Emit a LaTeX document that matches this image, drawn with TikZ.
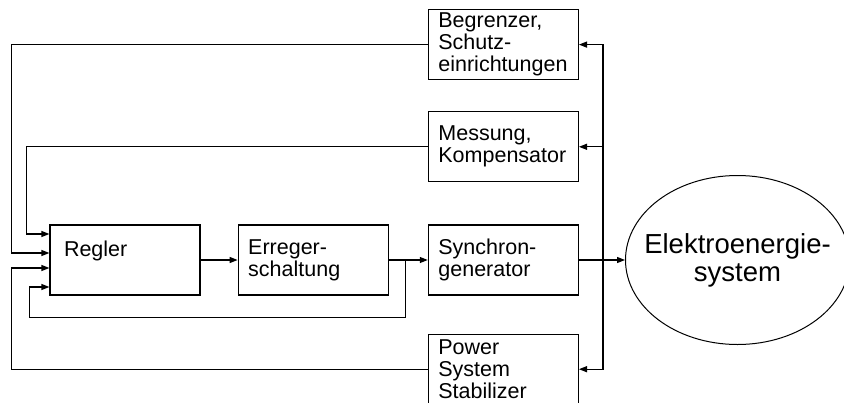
\documentclass[tikz,border=0pt]{standalone}
\usepackage{fontspec}
\setmainfont{Liberation Sans}
\usepackage{tikz}
\usetikzlibrary{positioning, arrows.meta, shapes.geometric}
\hyphenpenalty=10000

\begin{document}
\begin{tikzpicture}[x=1pt, y=-1pt, line width=1.2pt, >={Triangle[length=8pt, width=6pt]},
  font=\fontsize{21.5}{22}\selectfont,
  blk/.style={draw, align=left, inner xsep=10pt, inner ysep=0pt, text width=130pt, minimum height=70pt},
  sys/.style={draw, ellipse, line width=1pt, align=center, inner xsep=-40pt, inner ysep=-12pt,
    minimum width=224pt, minimum height=169pt, font=\fontsize{27.5}{28}\selectfont}]
\useasboundingbox (0,0) rectangle (844,402);
\node[blk] (reg) at (125,260) {\kern4pt Regler\\~};
\node[blk, right=37pt of reg] (err) {Erreger-\\schaltung};
\node[blk, right=39pt of err] (syn) {Synchron-\\generator};
\node[blk, above=42pt of syn] (mes) {Messung,\\Kompensator};
\node[blk, above=31pt of mes] (beg) {Begrenzer,\\Schutz-\\einrichtungen};
\node[blk, below=38pt of syn] (pss) {Power\\System\\Stabilizer};
\node[sys, right=46pt of syn] (ees) {Elektroenergie-\\system};
% forward path
\draw[->] (reg) -- (err);
\draw[->] (err) -- (syn);
\draw[->] (syn) -- (ees);
% measurement bus
\coordinate (bus) at ([xshift=24pt]syn.east);
\draw[->] (bus) |- (beg.east);
\draw[->] (bus) |- (mes.east);
\draw[->] (bus) |- (pss.east);
% feedback to the controller
\draw[->] (beg.west) -| ([xshift=-38pt, yshift=7pt]reg.west) -- ([yshift=7pt]reg.west);
\draw[->] (mes.west) -| ([xshift=-23pt, yshift=26pt]reg.west) -- ([yshift=26pt]reg.west);
\draw[->] (pss.west) -| ([xshift=-38pt, yshift=-8pt]reg.west) -- ([yshift=-8pt]reg.west);
\coordinate (br) at ([xshift=17pt]err.east);
\draw[->] (br) |- ([xshift=-20pt, yshift=-22pt]reg.south west) |- ([yshift=-27pt]reg.west);
\end{tikzpicture}
\end{document}
